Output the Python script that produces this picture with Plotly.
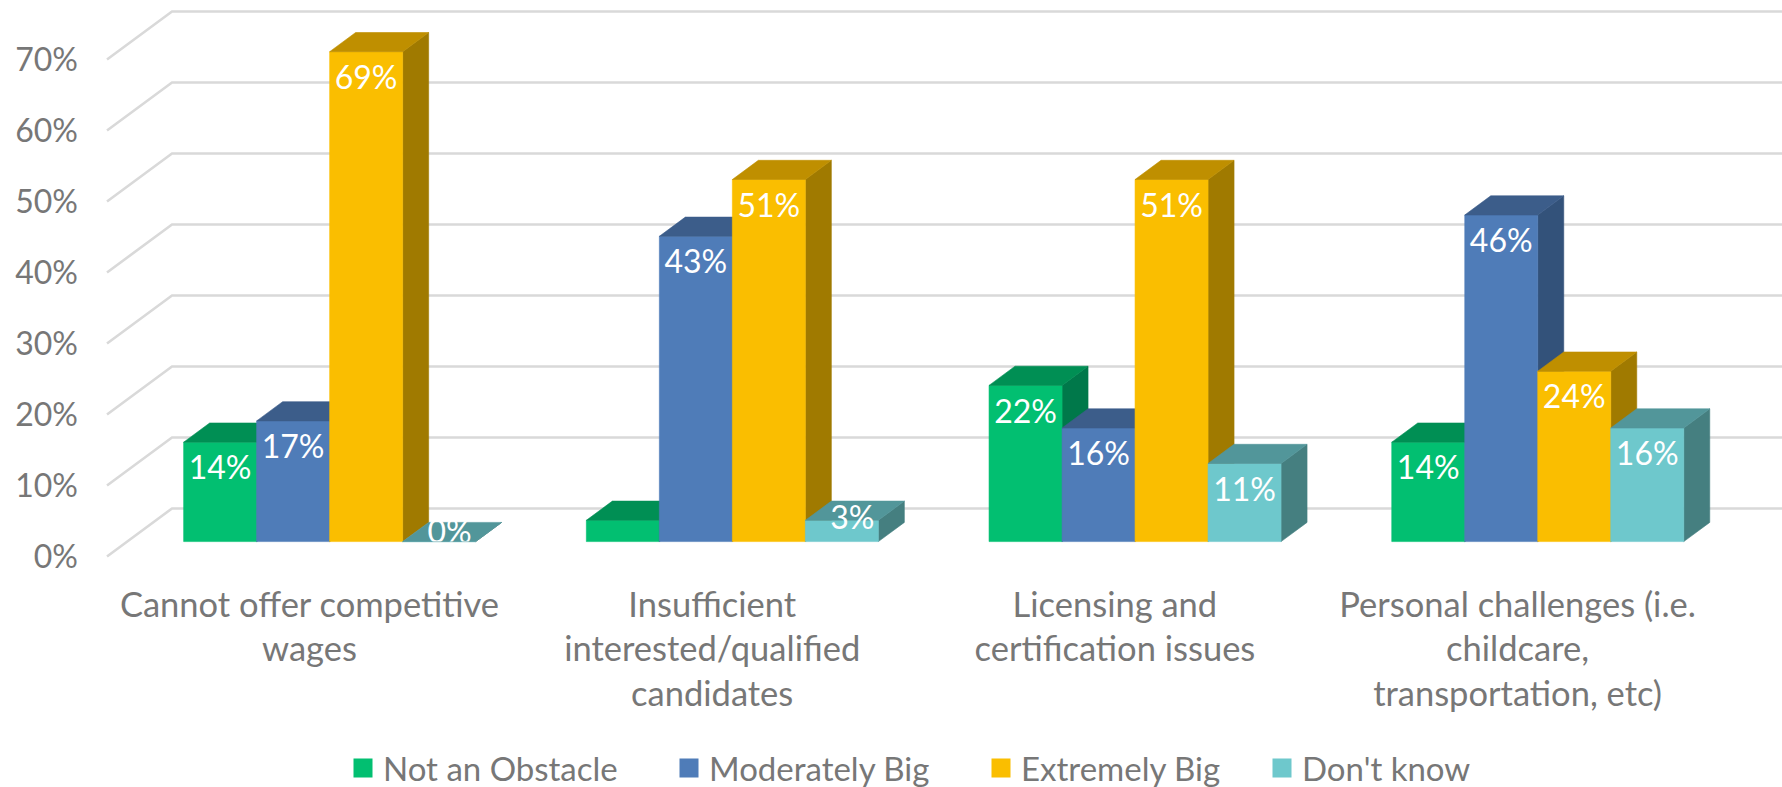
import plotly.graph_objects as go

# ---- data -------------------------------------------------------------
categories = [
    "Cannot offer competitive<br>wages",
    "Insufficient<br>interested/qualified<br>candidates",
    "Licensing and<br>certification issues",
    "Personal challenges (i.e.<br>childcare,<br>transportation, etc)",
]
series_names = ["Not an Obstacle", "Moderately Big", "Extremely Big", "Don't know"]
not_an_obstacle = [14, 3, 22, 14]
moderately_big = [17, 43, 16, 46]
extremely_big = [69, 51, 51, 24]
dont_know = [0, 3, 11, 16]
y_ticks = [0, 10, 20, 30, 40, 50, 60, 70]
y_tick_labels = ["0%", "10%", "20%", "30%", "40%", "50%", "60%", "70%"]
# (series index, category index) pairs whose value label is not printed
hidden_labels = {(0, 1)}

series_values = [not_an_obstacle, moderately_big, extremely_big, dont_know]
front_colors = ["#02BF71", "#4F7CB8", "#FABE00", "#6EC8CC"]
top_colors = ["#008F54", "#3C5D8A", "#BF8F00", "#52969A"]
side_colors = ["#00784A", "#33527A", "#A07A00", "#457F80"]

# ---- geometry (axis units) -------------------------------------------
W_PX, H_PX = 1782, 787
M_L, M_R, M_T, M_B = 95, 0, 6, 222
PX_PER_CAT = 402.7      # px per category step on x
PX_PER_PCT = 7.1        # px per percentage point on y
CAT0_PX = 309.5         # pixel position of the first category centre

x_lo = (M_L - CAT0_PX) / PX_PER_CAT
x_hi = x_lo + (W_PX - M_L - M_R) / PX_PER_CAT
y_lo = -1.2
y_hi = y_lo + (H_PX - M_T - M_B) / PX_PER_PCT

WALL_X = (107 - CAT0_PX) / PX_PER_CAT   # front-left corner of the floor
DEPTH_X = 65 / PX_PER_CAT               # full depth of the box, x shift
DEPTH_Y = 48 / PX_PER_PCT               # full depth of the box, y shift
BAR_W = 73 / PX_PER_CAT
BAR_FRONT = 0.31                         # depth fraction of bar front faces
BAR_DEPTH = 0.40                         # depth fraction taken by the bars

fx_shift = BAR_FRONT * DEPTH_X
fy_base = BAR_FRONT * DEPTH_Y
bdx = BAR_DEPTH * DEPTH_X
bdy = BAR_DEPTH * DEPTH_Y

fig = go.Figure()

# back wall gridlines with their floor diagonals
gx, gy = [], []
for t in y_ticks:
    gx += [WALL_X, WALL_X + DEPTH_X, x_hi + 1, None]
    gy += [t, t + DEPTH_Y, t + DEPTH_Y, None]
fig.add_trace(go.Scatter(x=gx, y=gy, mode="lines",
                         line=dict(color="#D9D9D9", width=2.6),
                         hoverinfo="skip", showlegend=False, cliponaxis=False))


def poly_trace(xs, ys, color):
    return go.Scatter(x=xs, y=ys, mode="lines", fill="toself",
                      fillcolor=color, line=dict(color=color, width=0.6),
                      hoverinfo="skip", showlegend=False)


label_x, label_y, label_t = [], [], []
for s, values in enumerate(series_values):
    front_x, front_y, top_x, top_y, side_x, side_y = [], [], [], [], [], []
    for c, v in enumerate(values):
        x0 = c + (s - 2) * BAR_W + fx_shift
        x1 = x0 + BAR_W
        y0 = fy_base
        y1 = fy_base + v
        front_x += [x0, x1, x1, x0, x0, None]
        front_y += [y0, y0, y1, y1, y0, None]
        top_x += [x0, x1, x1 + bdx, x0 + bdx, x0, None]
        top_y += [y1, y1, y1 + bdy, y1 + bdy, y1, None]
        side_x += [x1, x1 + bdx, x1 + bdx, x1, x1, None]
        side_y += [y0, y0 + bdy, y1 + bdy, y1, y0, None]
        if (s, c) not in hidden_labels:
            if v >= 8:
                label_x.append(x0 + BAR_W / 2)
                label_y.append(y1 - 4.1)
            else:
                # short bars: label sits over the top face
                label_x.append(x0 + BAR_W / 2 + bdx * 0.4)
                label_y.append(fy_base + max(v - 0.1, 1.0))
            label_t.append(f"{v}%")
    fig.add_trace(poly_trace(side_x, side_y, side_colors[s]))
    fig.add_trace(poly_trace(front_x, front_y, front_colors[s]))
    fig.add_trace(poly_trace(top_x, top_y, top_colors[s]))

# value labels on a subplot whose floor is the bars' base line
fig.add_trace(go.Scatter(x=label_x, y=label_y, text=label_t, mode="text",
                         textposition="middle center",
                         textfont=dict(color="white", size=32, family="Lato"),
                         hoverinfo="skip", showlegend=False, cliponaxis=True,
                         xaxis="x2", yaxis="y2"))

# legend entries
legend_keys = ["legend", "legend2", "legend3", "legend4"]
legend_px = [343, 669, 981, 1262]
for s, name in enumerate(series_names):
    fig.add_trace(go.Scatter(x=[None], y=[None], mode="markers", name=name,
                             marker=dict(symbol="square", size=16,
                                         color=front_colors[s],
                                         line=dict(color=front_colors[s],
                                                   width=3)),
                             legend=legend_keys[s]))

legend_style = dict(orientation="h", xref="container", yref="container",
                    xanchor="left", yanchor="middle", y=19 / H_PX,
                    font=dict(size=33, color="#777777", family="Lato"),
                    bgcolor="rgba(0,0,0,0)", itemsizing="trace")
legends = {}
for key, px in zip(legend_keys, legend_px):
    legends[key] = dict(legend_style, x=px / W_PX)

y2_dom = (fy_base - y_lo) / (y_hi - y_lo)

fig.update_layout(
    width=W_PX, height=H_PX, autosize=False,
    margin=dict(l=M_L, r=M_R, t=M_T, b=M_B),
    paper_bgcolor="white", plot_bgcolor="rgba(0,0,0,0)",
    font=dict(family="Lato", color="#777777", size=32),
    showlegend=True, hovermode=False,
    xaxis=dict(range=[x_lo, x_hi], tickvals=list(range(len(categories))),
               ticktext=categories, showgrid=False, zeroline=False,
               showline=False, ticks="", ticklabelstandoff=16,
               tickfont=dict(size=34.5, color="#777777"), fixedrange=True),
    yaxis=dict(range=[y_lo, y_hi], tickvals=y_ticks, ticktext=y_tick_labels,
               showgrid=False, zeroline=False, showline=False, ticks="",
               ticklabelstandoff=16, tickfont=dict(size=32, color="#777777"),
               fixedrange=True),
    xaxis2=dict(range=[x_lo, x_hi], anchor="y2", visible=False,
                fixedrange=True),
    yaxis2=dict(range=[fy_base, y_hi], domain=[y2_dom, 1], anchor="x2",
                visible=False, fixedrange=True),
    **legends,
)

fig.write_html("out.html")
